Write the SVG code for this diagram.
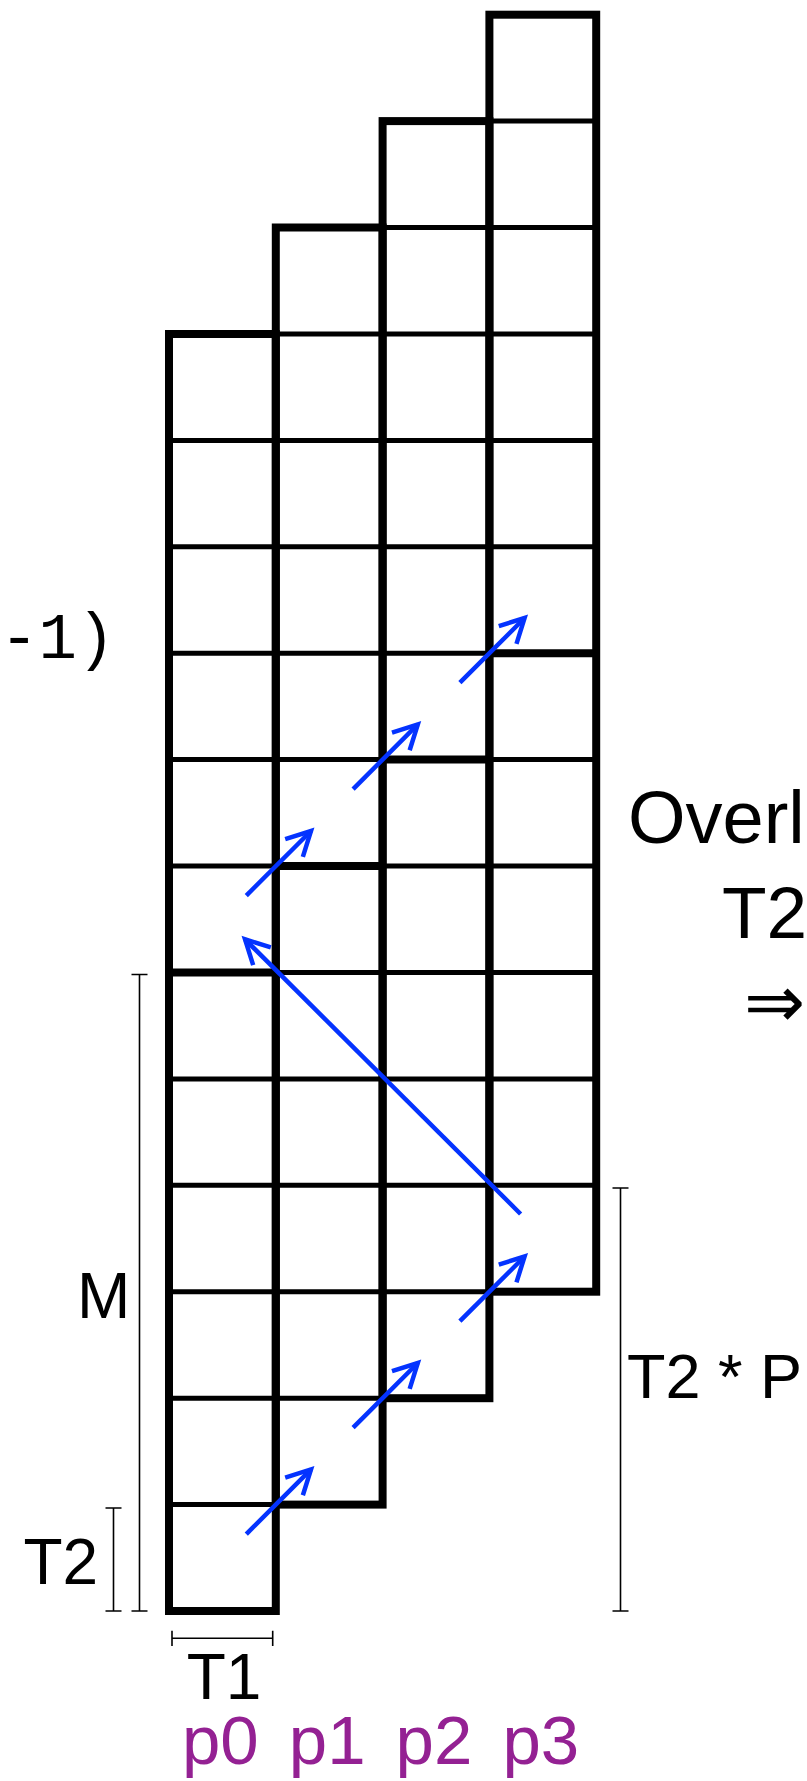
<svg xmlns="http://www.w3.org/2000/svg" width="807" height="1781" viewBox="0 0 807 1781">
<style>
.col{fill:none;stroke:#000;stroke-width:8;stroke-linejoin:miter}
.thin{stroke:#000;stroke-width:5;fill:none}
.thick{stroke:#000;stroke-width:8}
.arr{stroke:#0433ff;stroke-width:4.5;fill:none}
.dim{stroke:#000;stroke-width:1.6;fill:none}
.lbl{font-family:"Liberation Sans",Arial,sans-serif;fill:#000}
.pl{font-family:"Liberation Sans",Arial,sans-serif;fill:#942193;font-size:69px}
</style>
<defs>
<marker id="ah" markerUnits="userSpaceOnUse" viewBox="-30 -16 34 32" markerWidth="34" markerHeight="32" refX="0" refY="0" orient="auto" overflow="visible">
<path d="M-24,-12.5 L0,0 L-24,12.5" fill="none" stroke="#0433ff" stroke-width="4.5"/>
</marker>
</defs>
<rect width="807" height="1781" fill="#fff"/>

<g id="p0">
<path class="thin" d="M169 440.4H275.8M169 546.8H275.8M169 653.2H275.8M169 759.6H275.8M169 866.1H275.8M169 1078.9H275.8M169 1185.3H275.8M169 1291.7H275.8M169 1398.2H275.8M169 1504.6H275.8"/>
<line class="thick" x1="169" y1="972.5" x2="275.8" y2="972.5"/>
<rect class="col" x="169" y="334" width="106.8" height="1277"/>
</g>

<g id="p1">
<path class="thin" d="M275.8 334H382.6M275.8 440.4H382.6M275.8 546.8H382.6M275.8 653.2H382.6M275.8 759.6H382.6M275.8 972.5H382.6M275.8 1078.9H382.6M275.8 1185.3H382.6M275.8 1291.7H382.6M275.8 1398.2H382.6"/>
<line class="thick" x1="275.8" y1="866.1" x2="382.6" y2="866.1"/>
<rect class="col" x="275.8" y="227.5" width="106.8" height="1277.1"/>
</g>

<g id="p2">
<path class="thin" d="M382.6 227.5H489.4M382.6 334H489.4M382.6 440.4H489.4M382.6 546.8H489.4M382.6 653.2H489.4M382.6 866.1H489.4M382.6 972.5H489.4M382.6 1078.9H489.4M382.6 1185.3H489.4M382.6 1291.7H489.4"/>
<line class="thick" x1="382.6" y1="759.6" x2="489.4" y2="759.6"/>
<rect class="col" x="382.6" y="121.1" width="106.8" height="1277.1"/>
</g>

<g id="p3">
<path class="thin" d="M489.4 121.1H596.2M489.4 227.5H596.2M489.4 334H596.2M489.4 440.4H596.2M489.4 546.8H596.2M489.4 759.6H596.2M489.4 866.1H596.2M489.4 972.5H596.2M489.4 1078.9H596.2M489.4 1185.3H596.2"/>
<line class="thick" x1="489.4" y1="653.2" x2="596.2" y2="653.2"/>
<rect class="col" x="489.4" y="14.7" width="106.8" height="1277"/>
</g>

<g id="connectors">
<line class="arr" x1="246.3" y1="895.6" x2="311" y2="831" marker-end="url(#ah)"/>
<line class="arr" x1="353.1" y1="789.1" x2="417.8" y2="724.4" marker-end="url(#ah)"/>
<line class="arr" x1="459.9" y1="682.7" x2="524.6" y2="618" marker-end="url(#ah)"/>
<line class="arr" x1="246.3" y1="1534.1" x2="311" y2="1469.4" marker-end="url(#ah)"/>
<line class="arr" x1="353.1" y1="1427.7" x2="417.8" y2="1363" marker-end="url(#ah)"/>
<line class="arr" x1="459.9" y1="1321.2" x2="524.6" y2="1256.5" marker-end="url(#ah)"/>
<line class="arr" x1="520.6" y1="1214" x2="245" y2="939.3" marker-end="url(#ah)"/>
</g>

<g id="dimensions">
<path class="dim" d="M139.5 974.5V1611M131.5 974.5H147.5M131.5 1611H147.5"/>
<path class="dim" d="M113.5 1508V1611M105.5 1508H121.5M105.5 1611H121.5"/>
<path class="dim" d="M620.5 1188V1611M612.5 1188H628.5M612.5 1611H628.5"/>
<path class="dim" d="M172 1638.3H272.7M172 1630.7V1646M272.7 1630.7V1646"/>
</g>

<g id="labels">
<text class="lbl" x="77" y="1318" font-size="64">M</text>
<text class="lbl" x="23.5" y="1584" font-size="64">T2</text>
<text class="lbl" x="224" y="1699" font-size="64" text-anchor="middle">T1</text>
<text class="lbl" x="627" y="1398" font-size="63">T2 * P</text>
<text class="lbl" x="628" y="843" font-size="74">Overl</text>
<text class="lbl" x="722" y="938" font-size="73">T2</text>
<text x="744" y="1027" font-size="73" font-family="'DejaVu Sans',sans-serif" font-weight="200" fill="#000">⇒</text>
<text x="0" y="658" font-size="64" font-family="'Liberation Mono','Courier New',monospace" fill="#000">-1)</text>
<text class="pl" x="182" y="1764">p0</text>
<text class="pl" x="288.8" y="1764">p1</text>
<text class="pl" x="395.6" y="1764">p2</text>
<text class="pl" x="502.4" y="1764">p3</text>
</g>
</svg>
